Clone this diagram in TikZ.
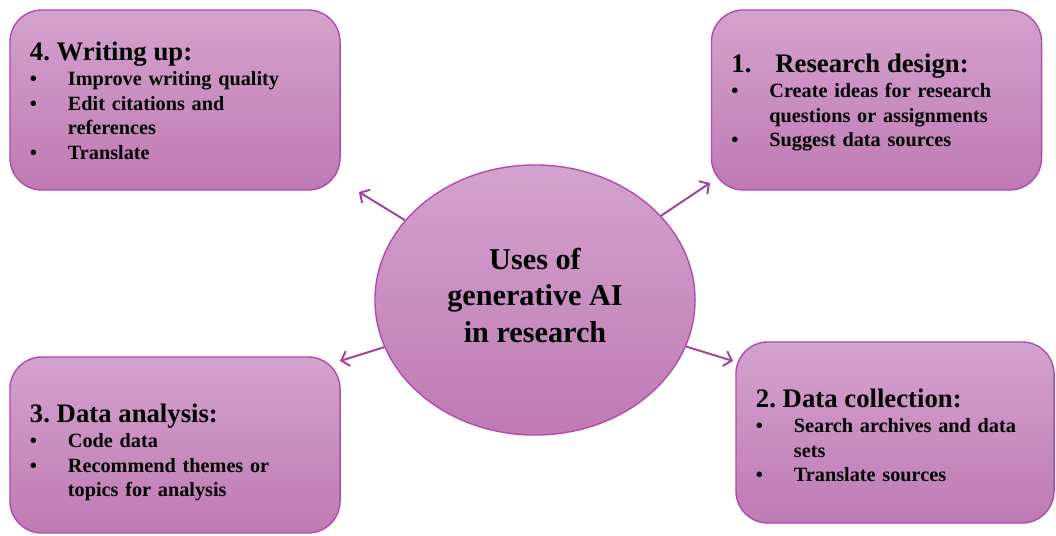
\documentclass[tikz,border=0pt]{standalone}
\usepackage{fontspec}
\setmainfont{Liberation Serif}
\usetikzlibrary{shapes.geometric, positioning, arrows.meta}
\frenchspacing

\definecolor{boxtop}{HTML}{D3A2CD}
\definecolor{boxbot}{HTML}{BF7AB4}
\definecolor{boxline}{HTML}{B04CAC}
\definecolor{arrcol}{HTML}{A6409F}

% heading row (strut height, text) and bullet of a box
\newcommand{\hd}[2]{\multicolumn{2}{@{}l@{}}{\rule{0pt}{#1}\fontsize{19}{22}\selectfont #2}}
\newcommand{\bl}{\textbullet}

\tikzset{
  usebox/.style={draw=boxline, line width=1pt, rounded corners=0.8cm,
    top color=boxtop, bottom color=boxbot, inner xsep=0.5cm, inner ysep=0pt,
    minimum height=4.5cm, text width=7.25cm, align=left,
    font=\bfseries\fontsize{14.4}{17.4}\selectfont},
  hub/.style={ellipse, draw=boxline, line width=1pt, top color=boxtop,
    bottom color=boxbot, minimum width=8cm, minimum height=6.75cm,
    inner sep=0pt, align=center, text depth=7pt,
    font=\bfseries\fontsize{21.5}{26}\selectfont},
  arr/.style={draw=arrcol, line width=1.4pt,
    -{Straight Barb[length=5pt, width=11pt]}}
}

\begin{document}
\begin{tikzpicture}[x=0.025cm, y=-0.025cm]
    \useasboundingbox (0,0) rectangle (1056,536);

    % centre
    \node[hub] (hub) at (535,300) {Uses of\\generative AI\\in research};

    % the four steps
    \node[usebox] (box4) at (175,100) {%
      \begin{tabular}{@{}p{27pt}@{}l@{}}
        \hd{19.1pt}{4. Writing up:}\\[1pt]
        \bl & Improve writing quality\\
        \bl & Edit citations and\\
            & references\\
        \bl & Translate
      \end{tabular}};
    \node[usebox] (box1) at (876.5,100) {%
      \begin{tabular}{@{}p{27pt}@{}l@{}}
        \hd{18.7pt}{1.\hspace{17pt}Research design:}\\[1pt]
        \bl & Create ideas for research\\
            & questions or assignments\\
        \bl & Suggest data sources
      \end{tabular}};
    \node[usebox, minimum height=4.4cm] (box3) at (175,445) {%
      \begin{tabular}{@{}p{27pt}@{}l@{}}
        \hd{25.8pt}{3. Data analysis:}\\[0.5pt]
        \bl & Code data\\
        \bl & Recommend themes or\\
            & topics for analysis
      \end{tabular}};
    \node[usebox, text width=6.95cm, minimum height=4.525cm] (box2) at (895,432.5) {%
      \begin{tabular}{@{}p{27pt}@{}l@{}}
        \hd{22.3pt}{2. Data collection:}\\[0.5pt]
        \bl & Search archives and data\\
            & sets\\
        \bl & Translate sources
      \end{tabular}};

    % arrow tips
    \coordinate (e4) at (359,192);
    \coordinate (e1) at (710,183);
    \coordinate (e3) at (340,361);
    \coordinate (e2) at (733,361);

    \draw[arr] (hub) -- (e4);
    \draw[arr] (hub) -- (e1);
    \draw[arr] (hub) -- (e3);
    \draw[arr] (hub) -- (e2);
\end{tikzpicture}
\end{document}
